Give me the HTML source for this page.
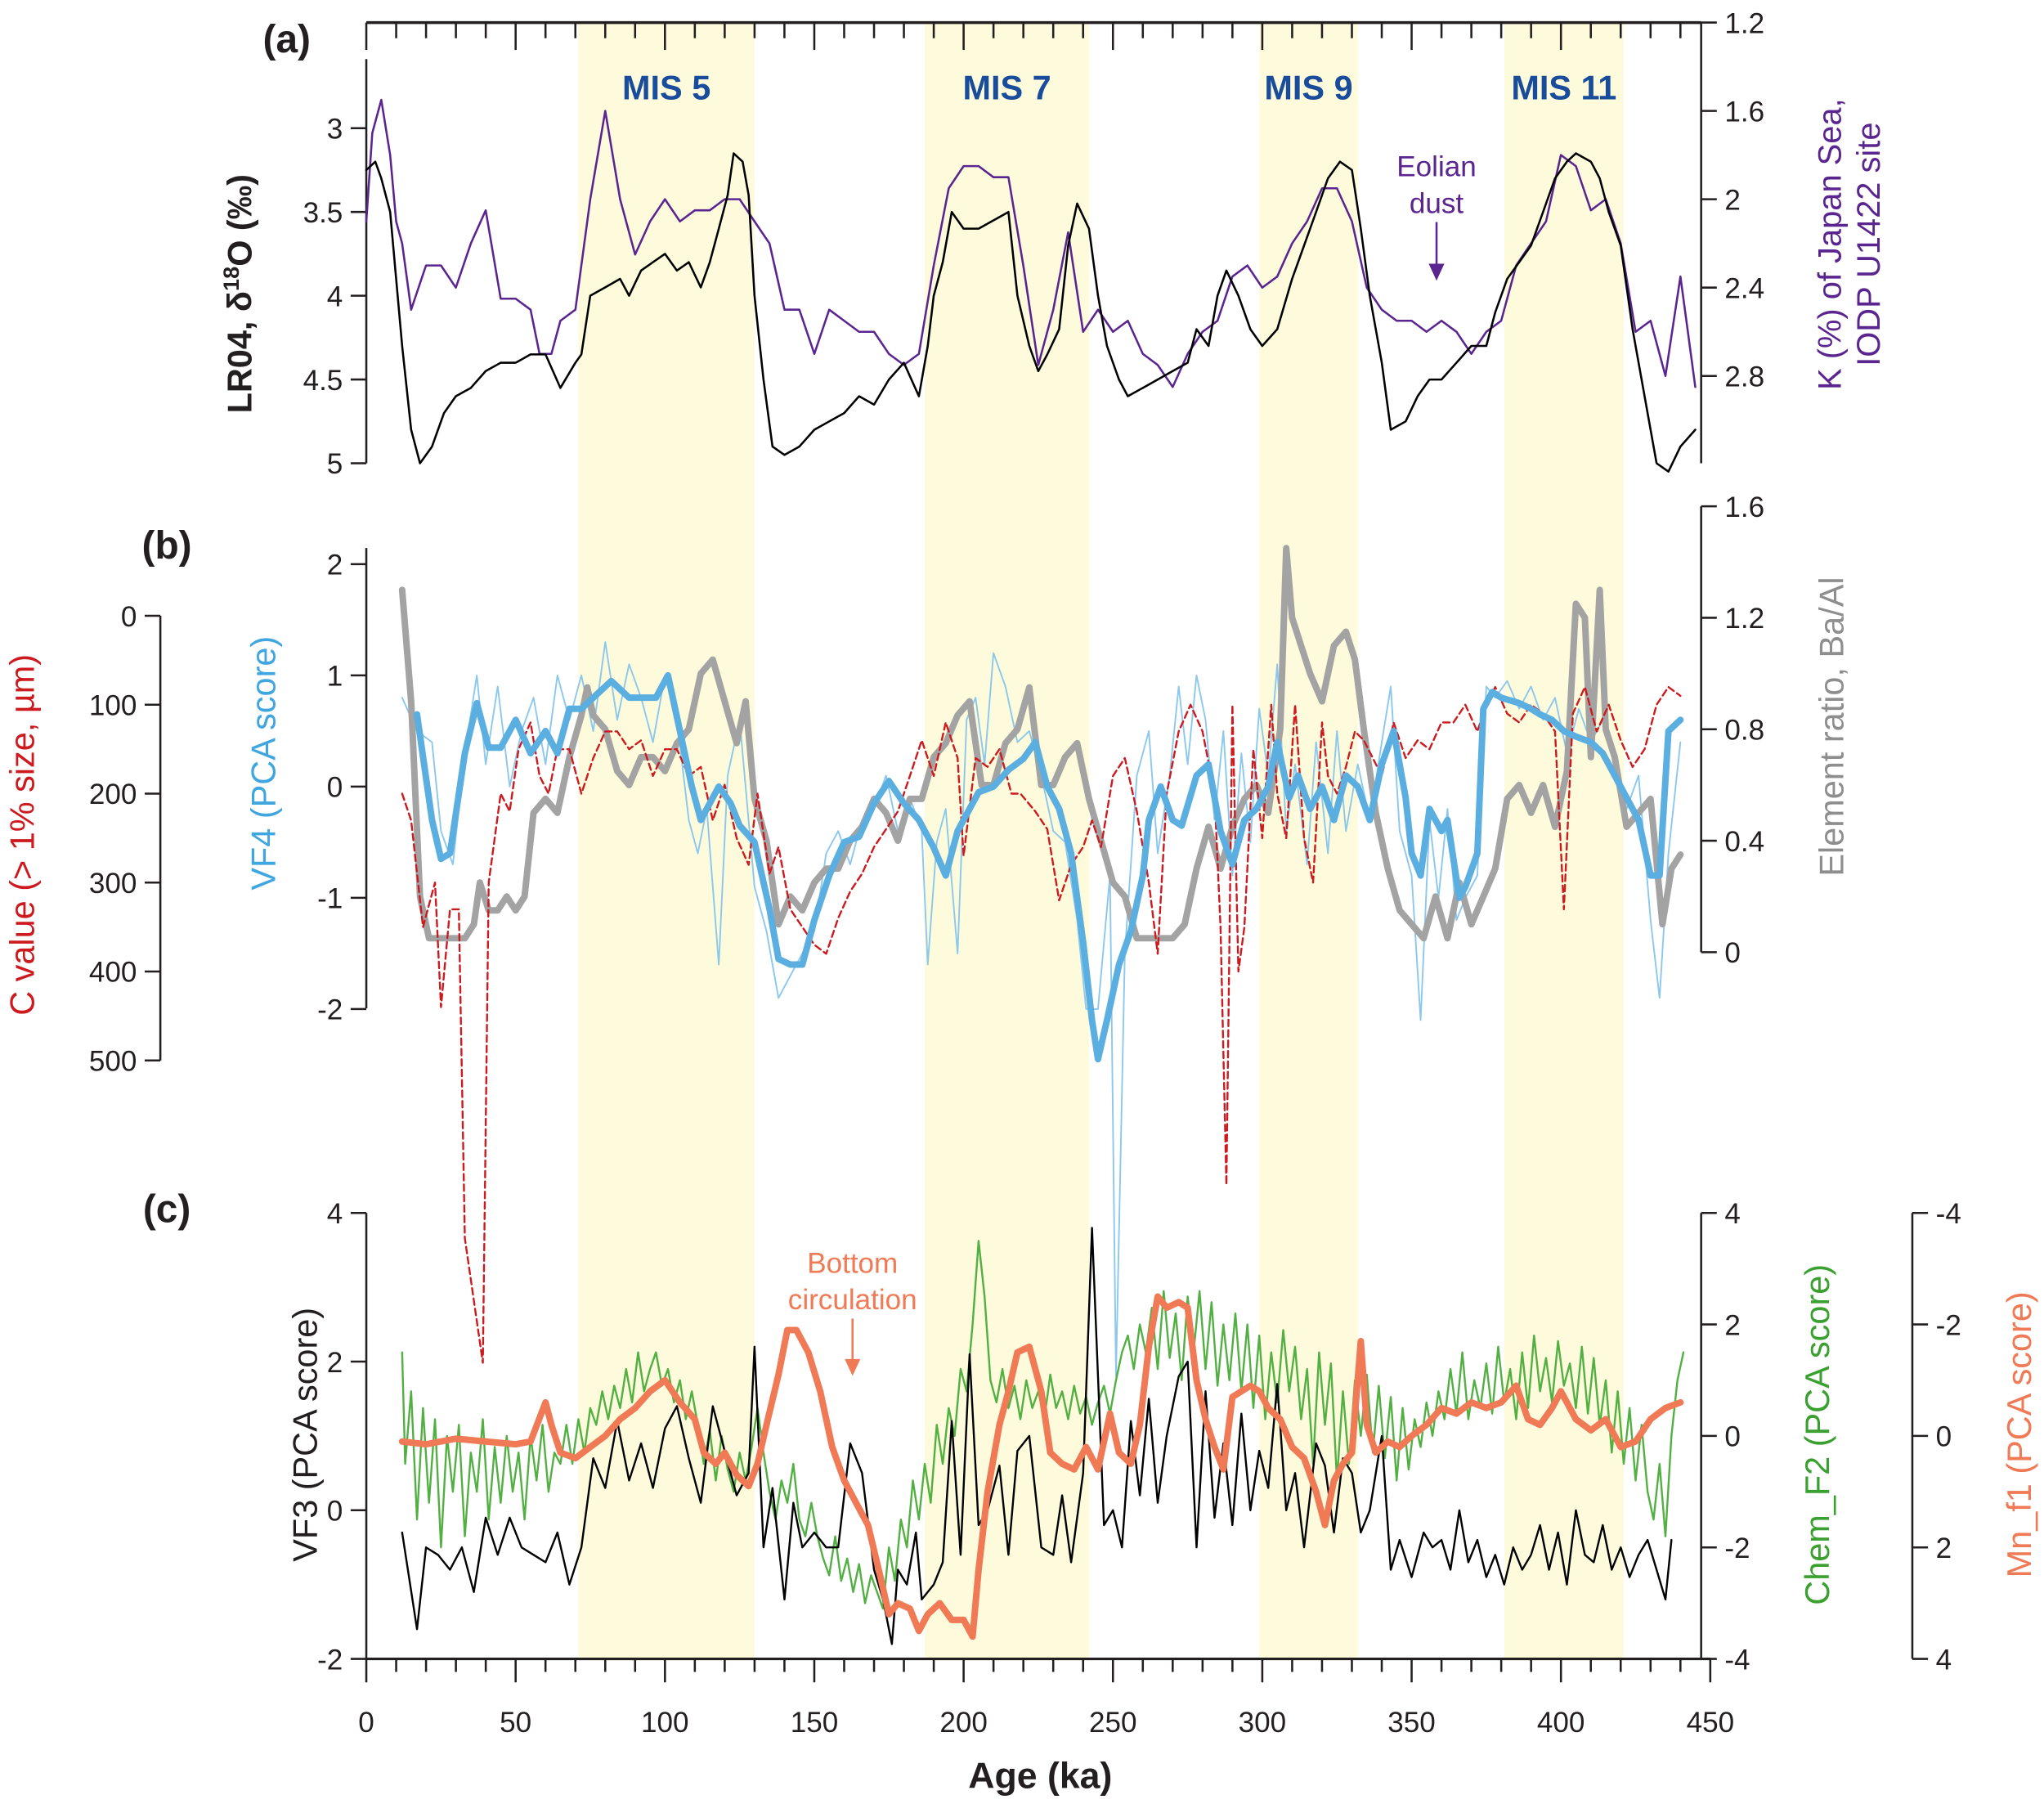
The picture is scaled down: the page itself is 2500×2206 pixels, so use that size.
<!DOCTYPE html>
<html><head><meta charset="utf-8"><style>
html,body{margin:0;padding:0;background:#fff;}
svg{display:block;font-family:"Liberation Sans",Arial,sans-serif;}
</style></head><body>
<svg id="chart" width="2500" height="2206" viewBox="0 0 1568 1383" xmlns="http://www.w3.org/2000/svg"></svg>
<script>
// ---------- DATA ----------
const lr04Age=[0,3,5,8,12,15,18,22,26,30,35,40,45,50,55,60,65,70,72,75,80,85,88,92,96,100,104,108,112,115,118,121,123,126,128,130,133,136,140,145,150,155,160,165,170,175,180,185,188,190,193,196,200,205,210,215,218,222,225,228,232,235,238,242,245,248,252,255,260,265,270,275,278,282,285,288,292,296,300,305,310,314,318,322,326,330,333,336,340,343,348,352,356,360,365,370,375,378,382,386,390,394,398,402,405,410,413,416,420,424,428,432,436,440,445];
const lr04Val=[3.25,3.2,3.3,3.5,4.3,4.8,5.0,4.9,4.7,4.6,4.55,4.45,4.4,4.4,4.35,4.35,4.55,4.4,4.35,4.0,3.95,3.9,4.0,3.85,3.8,3.75,3.85,3.8,3.95,3.8,3.6,3.4,3.15,3.2,3.4,4.0,4.5,4.9,4.95,4.9,4.8,4.75,4.7,4.6,4.65,4.5,4.4,4.6,4.3,4.0,3.8,3.5,3.6,3.6,3.55,3.5,4.0,4.3,4.45,4.35,4.2,3.7,3.45,3.6,4.0,4.3,4.5,4.6,4.55,4.5,4.45,4.4,4.2,4.3,4.0,3.85,4.0,4.2,4.3,4.2,3.9,3.7,3.5,3.3,3.2,3.25,3.6,4.0,4.4,4.8,4.75,4.6,4.5,4.5,4.4,4.3,4.3,4.1,3.9,3.8,3.7,3.5,3.3,3.2,3.15,3.2,3.3,3.5,3.7,4.2,4.6,5.0,5.05,4.9,4.8];
const kAge=[0,2,5,8,10,12,15,20,25,30,35,40,45,50,55,58,62,65,70,75,80,85,90,95,100,105,110,115,120,125,130,135,140,145,150,155,160,165,170,175,180,185,190,195,200,205,210,215,220,225,230,235,240,245,250,255,260,265,270,275,280,285,290,295,300,305,310,315,320,325,330,335,340,345,350,355,360,365,370,375,380,385,390,395,400,405,410,415,420,425,430,435,440,445];
const kVal=[2.1,1.7,1.55,1.8,2.1,2.2,2.5,2.3,2.3,2.4,2.2,2.05,2.45,2.45,2.5,2.7,2.7,2.55,2.5,2.0,1.6,2.0,2.25,2.1,2.0,2.1,2.05,2.05,2.0,2.0,2.1,2.2,2.5,2.5,2.7,2.5,2.55,2.6,2.6,2.7,2.75,2.7,2.3,1.95,1.85,1.85,1.9,1.9,2.3,2.75,2.5,2.15,2.6,2.5,2.6,2.55,2.7,2.75,2.85,2.7,2.6,2.55,2.35,2.3,2.4,2.35,2.2,2.1,1.95,1.95,2.1,2.4,2.5,2.55,2.55,2.6,2.55,2.6,2.7,2.6,2.55,2.3,2.2,2.1,1.8,1.85,2.05,2.0,2.2,2.6,2.55,2.8,2.35,2.85];
const vf4sAge=[17,22,25,28,33,37,41,45,50,55,60,64,68,72,78,82,88,93,97,101,105,109,112,118,122,125,130,135,138,142,146,150,155,160,165,170,175,180,185,190,194,198,202,205,210,215,220,224,228,232,236,240,243,245,248,252,256,260,262,266,270,273,278,282,286,290,294,298,302,305,309,312,316,320,324,328,332,336,340,344,348,350,353,356,360,362,366,368,372,374,377,380,386,390,393,397,401,405,410,414,418,422,426,430,433,436,440];
const vf4sVal=[0.65,-0.3,-0.65,-0.6,0.3,0.75,0.35,0.35,0.6,0.3,0.5,0.3,0.7,0.7,0.85,0.95,0.8,0.8,0.8,1.0,0.5,0.0,-0.3,0.0,-0.15,-0.35,-0.5,-1.1,-1.55,-1.6,-1.6,-1.2,-0.8,-0.5,-0.45,-0.15,0.05,-0.15,-0.3,-0.55,-0.8,-0.4,-0.2,-0.05,0.0,0.15,0.25,0.4,0.0,-0.2,-0.6,-1.4,-2.1,-2.45,-2.1,-1.6,-1.3,-0.8,-0.3,0.0,-0.3,-0.35,0.1,0.2,-0.4,-0.7,-0.3,-0.2,0.0,0.4,-0.1,0.1,-0.2,0.0,-0.3,0.1,0.0,-0.3,0.2,0.5,-0.1,-0.6,-0.8,-0.2,-0.4,-0.3,-1.0,-0.9,-0.6,0.7,0.85,0.8,0.75,0.7,0.65,0.6,0.5,0.45,0.4,0.3,0.1,-0.1,-0.3,-0.8,-0.8,0.5,0.6];
const vf4tAge=[12,17,22,25,29,33,37,40,44,48,52,56,60,64,68,72,76,80,84,88,92,96,100,104,108,111,114,118,121,125,130,134,138,142,146,150,154,158,162,166,170,174,178,182,186,188,191,194,198,201,204,207,210,214,218,222,226,230,234,238,241,245,249,251,254,258,262,265,269,272,275,278,281,284,287,290,293,296,299,302,305,308,311,315,318,322,325,328,332,336,340,343,346,350,353,356,359,362,365,368,372,375,378,382,386,390,394,398,402,406,410,414,418,422,426,430,433,436,440];
const vf4tVal=[0.8,0.5,0.4,-0.4,-0.7,0.3,1.0,0.2,0.9,0.0,0.5,0.8,0.2,1.0,0.6,1.0,0.5,1.3,0.6,1.1,0.8,0.4,1.0,0.6,-0.3,-0.6,-0.2,-1.6,0.1,0.6,-0.9,-1.3,-1.9,-1.7,-1.5,-1.3,-0.6,-0.4,-0.7,-0.3,-0.2,0.1,-0.4,-0.1,-0.4,-1.6,-0.5,-0.2,-1.5,0.6,0.8,0.2,1.2,0.9,0.4,0.5,0.1,-0.4,-0.5,-1.2,-2.0,-2.0,-0.8,-5.3,-1.5,0.1,0.5,-0.6,0.1,0.9,0.2,1.0,0.6,-0.3,0.5,-0.8,0.3,-0.5,0.7,0.1,1.1,-0.4,0.2,-0.7,0.4,-0.6,0.5,-0.4,0.2,-0.3,0.4,0.9,-0.4,-0.8,-2.1,-0.3,-1.0,-0.2,-1.2,-1.0,-0.8,0.9,0.8,0.95,0.7,0.9,0.6,0.8,0.3,0.7,0.4,0.6,0.2,-0.2,0.1,-1.2,-1.9,-0.6,0.4];
const baAge=[12,15,18,21,25,29,33,36,38,41,44,47,50,53,56,60,64,68,72,74,76,80,84,88,92,96,100,104,108,112,116,120,124,127,130,134,138,142,146,150,154,158,162,166,170,174,178,182,186,190,194,198,202,206,210,214,218,222,226,230,234,238,242,246,250,254,258,262,266,270,274,278,282,286,290,294,298,302,306,308,310,313,316,320,324,328,331,334,338,342,346,350,354,358,362,366,370,374,378,382,386,390,394,398,402,405,408,410,413,415,418,422,426,430,434,437,440];
const baVal=[1.3,0.9,0.2,0.05,0.05,0.05,0.05,0.1,0.25,0.15,0.15,0.2,0.15,0.2,0.5,0.55,0.5,0.7,0.85,0.95,0.85,0.8,0.65,0.6,0.7,0.7,0.65,0.75,0.8,1.0,1.05,0.9,0.75,0.9,0.55,0.4,0.1,0.2,0.15,0.25,0.3,0.3,0.4,0.45,0.55,0.5,0.4,0.55,0.55,0.7,0.75,0.85,0.9,0.6,0.6,0.75,0.8,0.95,0.6,0.6,0.7,0.75,0.55,0.4,0.25,0.2,0.05,0.05,0.05,0.05,0.1,0.3,0.45,0.3,0.45,0.55,0.6,0.5,0.8,1.45,1.2,1.1,1.0,0.9,1.1,1.15,1.05,0.8,0.5,0.3,0.15,0.1,0.05,0.2,0.05,0.25,0.1,0.2,0.3,0.55,0.6,0.5,0.6,0.45,0.65,1.25,1.2,0.7,1.3,0.8,0.7,0.45,0.5,0.55,0.1,0.3,0.35];
const cAge=[12,15,19,23,25,28,31,33,36,39,41,45,48,51,55,58,61,64,68,72,76,80,84,88,92,96,100,104,108,112,116,120,124,128,131,135,138,142,146,150,154,158,162,166,170,174,178,182,186,190,194,198,200,204,208,212,216,219,224,228,232,236,240,243,246,250,254,258,262,265,268,272,276,280,284,286,288,290,292,294,297,300,303,305,308,311,314,317,320,322,325,328,331,334,337,340,344,348,352,356,360,364,368,372,374,378,382,386,390,394,398,401,404,408,412,416,420,424,428,432,436,440];
const cVal=[200,230,350,300,440,330,330,700,770,840,300,200,220,150,120,180,200,150,150,200,160,130,130,150,140,180,150,150,180,170,230,190,250,280,200,290,260,330,350,370,380,340,310,290,260,240,220,180,140,180,120,160,270,160,170,150,200,200,220,240,320,280,260,230,260,180,160,220,300,380,200,130,100,130,200,350,640,100,400,350,150,250,100,200,250,100,250,300,120,180,200,170,130,140,160,180,120,160,140,150,120,120,100,130,110,80,110,120,100,110,130,330,110,80,130,100,140,170,150,100,80,90];
const vf3Age=[12,17,20,24,28,32,36,40,44,48,52,56,60,64,68,72,76,80,84,88,92,96,100,104,108,112,116,120,124,128,130,133,136,140,143,146,150,154,158,162,166,170,173,176,178,181,184,186,190,193,196,199,202,205,208,212,215,218,222,226,230,233,236,240,243,247,250,253,256,259,262,265,268,272,275,278,281,284,287,290,293,296,299,302,305,308,311,314,318,321,324,327,330,333,336,340,343,346,350,354,357,360,363,366,369,372,375,378,381,384,387,390,393,396,399,402,405,408,411,414,417,420,423,426,429,432,435,437];
const vf3Val=[-0.3,-1.6,-0.5,-0.6,-0.8,-0.5,-1.1,-0.1,-0.6,-0.1,-0.5,-0.6,-0.7,-0.3,-1.0,-0.5,0.7,0.3,1.2,0.4,0.9,0.3,1.1,1.4,0.7,0.1,1.4,0.8,0.2,0.5,2.2,-0.5,0.3,-1.2,0.1,-0.5,-0.3,-0.5,-0.5,0.9,0.5,-0.8,-1.2,-1.8,-0.8,-1.0,-0.3,-1.2,-1.0,-0.7,1.2,-0.6,2.1,-0.2,0.0,0.6,-0.6,0.8,1.0,-0.5,-0.6,0.2,-0.7,0.5,3.8,-0.2,0.0,-0.5,1.2,0.2,1.5,0.1,1.0,1.8,2.0,-0.5,1.6,-0.1,0.9,-0.2,1.3,0.0,0.8,0.3,1.7,0.0,0.5,-0.5,0.9,0.6,-0.3,0.7,0.5,-0.3,0.0,1.0,-0.8,-0.4,-0.9,-0.3,-0.5,-0.4,-0.8,0.0,-0.7,-0.4,-0.9,-0.6,-1.0,-0.5,-0.8,-0.6,-0.2,-0.8,-0.3,-1.0,0.0,-0.6,-0.7,-0.2,-0.8,-0.5,-0.9,-0.6,-0.4,-0.8,-1.2,-0.4];
const chemAge=[12,13,15,17,19,21,23,25,27,29,31,33,35,37,39,41,43,45,47,49,51,53,55,57,59,61,63,65,67,69,71,73,75,77,79,81,83,85,87,89,91,93,95,97,99,101,103,105,107,109,111,113,115,117,119,121,123,125,127,129,131,133,135,137,139,141,143,145,147,149,151,153,155,157,159,161,163,165,167,169,171,173,175,177,179,181,183,185,187,189,191,193,195,197,199,201,203,205,207,209,211,213,215,217,219,221,223,225,227,229,231,233,235,237,239,241,243,245,247,249,251,253,255,257,259,261,263,265,267,269,271,273,275,277,279,281,283,285,287,289,291,293,295,297,299,301,303,305,307,309,311,313,315,317,319,321,323,325,327,329,331,333,335,337,339,341,343,345,347,349,351,353,355,357,359,361,363,365,367,369,371,373,375,377,379,381,383,385,387,389,391,393,395,397,399,401,403,405,407,409,411,413,415,417,419,421,423,425,427,429,431,433,435,437,439,441];
const chemVal=[1.5,-0.5,0.8,-1.5,0.5,-1.2,0.3,-2,0,-1,0.2,-1.8,-0.3,-1,0.3,-1.5,-0.2,-1.2,0,-1,-0.3,-1.5,0,-0.8,0.2,-1,-0.3,-0.5,0.2,-0.5,0.3,-0.3,0.5,0.2,0.8,0.3,0.9,0.5,1.2,0.6,1.5,0.8,1.2,1.5,0.9,1.2,0.6,1.0,0.3,0.8,0.2,-0.5,0.1,-0.8,0.0,-0.6,-1,-0.3,-0.8,-0.2,0.5,-0.3,-1.0,-1.5,-0.8,-1.2,-0.5,-1.5,-1.8,-1.2,-1.8,-2.2,-2.5,-1.8,-2.6,-2.2,-2.8,-2.3,-3.0,-2.5,-2.8,-3.1,-2.0,-2.6,-1.5,-2.0,-0.8,-1.5,-0.5,-1.2,0.2,-0.5,0.5,0.0,1.2,0.8,2.0,3.5,2.5,1.0,0.6,1.2,0.5,0.9,0.3,1.0,0.5,0.8,0.3,1.1,0.5,0.8,0.3,0.9,0.4,0.7,0.2,0.6,0.9,0.4,1.0,1.5,1.8,1.2,2.0,1.5,2.3,1.2,2.6,1.4,2.2,1.0,2.5,1.5,2.6,1.2,2.4,0.9,2.0,1.0,2.2,0.8,2.0,0.5,1.8,0.3,1.5,0.6,1.9,0.8,1.6,0.3,1.2,-0.5,1.5,0.2,1.3,-0.8,0.8,-0.5,1.0,0.0,1.1,-0.3,0.9,-0.4,0.7,-0.8,0.5,-0.6,0.3,-0.2,0.6,0.0,0.8,0.3,1.2,0.4,1.5,0.3,1.0,0.5,1.3,0.4,1.6,0.6,1.2,0.3,1.5,0.5,1.8,0.8,1.4,0.6,1.7,0.9,1.3,0.5,1.6,0.4,1.4,0.2,1.0,-0.3,0.8,-0.5,0.5,-0.8,0.2,-1.0,-1.5,-0.5,-1.8,0.0,1.0,1.5];
const mnAge=[12,20,30,40,50,55,60,62,65,70,75,80,85,90,95,100,105,110,113,117,120,124,128,131,134,138,141,144,148,152,156,160,164,168,172,175,178,182,185,188,192,196,200,203,205,208,212,215,218,222,226,229,233,237,241,245,249,252,256,259,262,265,268,272,275,278,281,284,287,290,293,296,299,302,306,310,314,318,321,324,327,330,333,335,338,342,346,350,355,360,365,370,375,380,385,389,393,397,400,405,410,415,420,425,430,435,440];
const mnVal=[0.1,0.15,0.05,0.1,0.15,0.1,-0.6,-0.2,0.3,0.4,0.2,0.0,-0.3,-0.5,-0.8,-1.0,-0.6,-0.3,0.3,0.5,0.3,0.7,0.9,0.5,-0.2,-1.1,-1.9,-1.9,-1.5,-0.8,0.2,0.8,1.2,1.6,2.5,3.2,3.0,3.1,3.5,3.2,3.0,3.3,3.3,3.6,2.4,1.0,-0.2,-0.8,-1.5,-1.6,-0.8,0.3,0.5,0.6,0.2,0.6,-0.4,0.3,0.5,-0.2,-1.6,-2.5,-2.3,-2.4,-2.3,-1.0,-0.3,0.2,0.6,-0.7,-0.8,-0.9,-0.8,-0.5,-0.3,0.2,0.4,1.0,1.6,0.8,0.5,0.3,-1.7,-0.2,0.3,0.1,0.2,0.0,-0.2,-0.5,-0.4,-0.6,-0.5,-0.6,-0.9,-0.3,-0.2,-0.5,-0.8,-0.3,-0.1,-0.3,0.2,0.1,-0.3,-0.5,-0.6];
const misNames=["MIS 5","MIS 7","MIS 9","MIS 11"];
const misStart=[71,187,299,381];
const misEnd=[130,242,332,421];
const ageTicks=[0,50,100,150,200,250,300,350,400,450];

// ---------- SCALES ----------
const X=a=>281+a*(1031/450);
const yA=v=>98+(v-3)*128.5;       // d18O
const yK=v=>17+(v-1.2)*169.4;     // K %
const yVF4=v=>603-v*85.3;
const yBa=v=>730-v*213.75;
const yC=v=>472+v*0.682;
const yVF3=v=>1158-v*57;
const yChem=v=>1101-v*42.75;
const yMn=v=>1101+v*42.75;

const svg=document.getElementById('chart');
const NS='http://www.w3.org/2000/svg';
function mk(tag,attrs,parent){const e=document.createElementNS(NS,tag);for(const k in attrs)e.setAttribute(k,attrs[k]);(parent||svg).appendChild(e);return e;}
function txt(s,x,y,attrs){const t=mk('text',Object.assign({x:x,y:y},attrs));t.textContent=s;return t;}
function path(ages,vals,yf,style){let d='';for(let i=0;i<ages.length;i++){d+=(i?'L':'M')+X(ages[i]).toFixed(1)+','+yf(vals[i]).toFixed(1);}return mk('path',Object.assign({d:d,fill:'none','stroke-linejoin':'round','stroke-linecap':'round'},style));}

// MIS bands
for(let i=0;i<misNames.length;i++){
  const r=mk('rect',{x:X(misStart[i]),y:17,width:X(misEnd[i])-X(misStart[i]),height:1255,fill:'#fdfbdc'});
  
  
  const t=txt(misNames[i],(X(misStart[i])+X(misEnd[i]))/2,76,{'font-size':26,'font-weight':'bold',fill:'#1a4c9c','text-anchor':'middle'});
  
  
}

// ---------- AXES ----------
const ax=mk('g',{stroke:'#231f20','stroke-width':1.6,fill:'none'});


// top axis (a)
mk('line',{x1:281,y1:17,x2:1305,y2:17,'stroke-width':2.2},ax);
for(let a=0;a<=440;a+=10){mk('line',{x1:X(a),y1:17,x2:X(a),y2:a%50==0?38:29},ax);}
// bottom axis
mk('line',{x1:281,y1:1272,x2:1312,y2:1272,'stroke-width':2},ax);
for(let a=0;a<=450;a+=10){mk('line',{x1:X(a),y1:1272,x2:X(a),y2:a%50==0?1290:1282},ax);}
ageTicks.forEach(a=>{const t=txt(a,X(a),1328,{'font-size':22,'text-anchor':'middle',fill:'#231f20'});});
const xt=txt('Age (ka)',798,1371,{'font-size':28,'font-weight':'bold','text-anchor':'middle',fill:'#231f20'});


function vAxis(x,y1,y2,ticks,yf,side,labels,color,fs){
  mk('line',{x1:x,y1:y1,x2:x,y2:y2,stroke:color},ax);
  ticks.forEach((v,i)=>{const y=yf(v);const dx=side=='left'?-12:12;mk('line',{x1:x,y1:y,x2:x+dx,y2:y,stroke:color},ax);
    const t=txt(labels[i],side=='left'?x-18:x+18,y+8,{'font-size':fs||22,'text-anchor':side=='left'?'end':'start',fill:'#231f20'});
    });
}
// (a)
vAxis(281,45,355,[3,3.5,4,4.5,5],yA,'left',['3','3.5','4','4.5','5'],'#231f20');
vAxis(1305,17,355,[1.2,1.6,2,2.4,2.8],yK,'right',['1.2','1.6','2','2.4','2.8'],'#231f20');
// (b)
vAxis(281,420,773,[2,1,0,-1,-2],yVF4,'left',['2','1','0','-1','-2'],'#231f20');
vAxis(1305,388,730,[1.6,1.2,0.8,0.4,0],yBa,'right',['1.6','1.2','0.8','0.4','0'],'#231f20');
vAxis(123,472,813,[0,100,200,300,400,500],yC,'left',['0','100','200','300','400','500'],'#231f20');
// (c)
vAxis(281,930,1272,[4,2,0,-2],yVF3,'left',['4','2','0','-2'],'#231f20');
vAxis(1305,930,1272,[4,2,0,-2,-4],yChem,'right',['4','2','0','-2','-4'],'#231f20');
mk('line',{x1:1467,y1:930,x2:1467,y2:1272},ax);
[-4,-2,0,2,4].forEach(v=>{const y=yMn(v);mk('line',{x1:1467,y1:y,x2:1479,y2:y},ax);const t=txt(String(v),1485,y+8,{'font-size':22,fill:'#231f20'});});

// ---------- SERIES ----------
let p;
p=path(kAge,kVal,yK,{stroke:'#5b2590','stroke-width':1.6});

p=path(lr04Age,lr04Val,yA,{stroke:'#000','stroke-width':1.6});


p=path(vf4tAge,vf4tVal,yVF4,{stroke:'#8cc8ee','stroke-width':1.2});

p=path(baAge,baVal,yBa,{stroke:'#a3a3a3','stroke-width':5});

p=path(cAge,cVal,yC,{stroke:'#cc1a1f','stroke-width':1.5,'stroke-dasharray':'5,3'});

p=path(vf4sAge,vf4sVal,yVF4,{stroke:'#5aaee0','stroke-width':5});


p=path(chemAge,chemVal,yChem,{stroke:'#52b043','stroke-width':1.5});

p=path(vf3Age,vf3Val,yVF3,{stroke:'#000','stroke-width':1.5});

p=path(mnAge,mnVal,yMn,{stroke:'#ef7a55','stroke-width':5});


// ---------- LABELS ----------
function label(s,x,y,attrs,name){const t=txt(s,x,y,attrs);return t;}
label('(a)',220,40,{'font-size':30,'font-weight':'bold','text-anchor':'middle',fill:'#231f20'},'panel-a-label');
label('(b)',128,428,{'font-size':30,'font-weight':'bold','text-anchor':'middle',fill:'#231f20'},'panel-b-label');
label('(c)',128,937,{'font-size':30,'font-weight':'bold','text-anchor':'middle',fill:'#231f20'},'panel-c-label');
function rot(s,x,y,attrs,name){const t=label(s,x,y,Object.assign({'text-anchor':'middle',transform:'rotate(-90 '+x+' '+y+')'},attrs),name);return t;}
const ya=rot('',193,225,{'font-size':26,'font-weight':'bold',fill:'#231f20'},'y-axis-title-d18o');
ya.innerHTML='LR04, δ<tspan font-size="17" dy="-10">18</tspan><tspan dy="10">O (‰)</tspan>';
rot('K (%) of Japan Sea,',1412,187,{'font-size':25,fill:'#5b2590'},'y-axis-title-k');
rot('IODP U1422 site',1442,187,{'font-size':25,fill:'#5b2590'},'y-axis-title-k-site');
rot('VF4 (PCA score)',211,585,{'font-size':26,fill:'#3fa6e0'},'y-axis-title-vf4');
rot('C value (> 1% size, µm)',26,640,{'font-size':26,fill:'#cc1a1f'},'y-axis-title-c-value');
rot('Element ratio, Ba/Al',1414,557,{'font-size':26,fill:'#8e8e8e'},'y-axis-title-ba-al');
rot('VF3 (PCA score)',243,1100,{'font-size':26,fill:'#231f20'},'y-axis-title-vf3');
rot('Chem_F2 (PCA score)',1403,1100,{'font-size':26,fill:'#3aa030'},'y-axis-title-chem-f2');
rot('Mn_f1 (PCA score)',1558,1100,{'font-size':26,fill:'#ef7a55'},'y-axis-title-mn-f1');
label('Eolian',1102,135,{'font-size':22,fill:'#5b2590','text-anchor':'middle'},'eolian-dust-label');
label('dust',1102,163,{'font-size':22,fill:'#5b2590','text-anchor':'middle'},'eolian-dust-label-2');
mk('line',{x1:1102,y1:170,x2:1102,y2:205,stroke:'#5b2590','stroke-width':1.6});
mk('path',{d:'M1096,202 L1108,202 L1102,215 Z',fill:'#5b2590'});
label('Bottom',654,976,{'font-size':22,fill:'#ef7a55','text-anchor':'middle'},'bottom-circulation-label');
label('circulation',654,1004,{'font-size':22,fill:'#ef7a55','text-anchor':'middle'},'bottom-circulation-label-2');
mk('line',{x1:654,y1:1011,x2:654,y2:1045,stroke:'#ef7a55','stroke-width':1.6});
mk('path',{d:'M648,1042 L660,1042 L654,1055 Z',fill:'#ef7a55'});
</script>
</body></html>
